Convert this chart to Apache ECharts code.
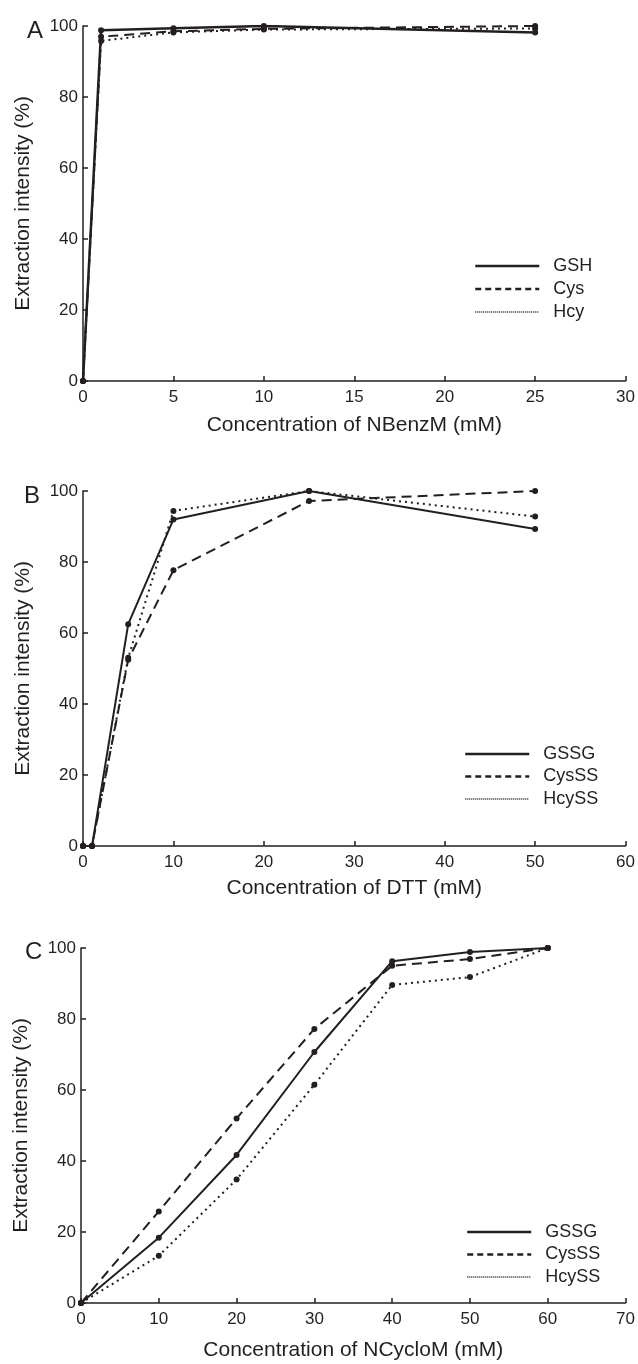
<!DOCTYPE html>
<html>
<head>
<meta charset="UTF-8">
<title>Extraction intensity</title>
<style>
    html, body { margin: 0; padding: 0; background: #fff; }
    #main { width: 638px; height: 1364px; }
</style>
</head>
<body>
<div id="main"></div>
<script src="https://cdn.jsdelivr.net/npm/echarts@6/dist/echarts.min.js"></script>
<script type="text/javascript">
// A: NBenzM (mM)
var xA = [0, 1, 5, 10, 25];
var gshA = [0, 98.8, 99.4, 100, 98.2];
var cysA = [0, 97, 98.5, 99.2, 100];
var hcyA = [0, 95.8, 98.2, 99, 99.3];

// B: DTT (mM)
var xB = [0, 1, 5, 10, 25, 50];
var gssgB = [0, 0, 62.5, 92, 100, 89.3];
var cysssB = [0, 0, 52.5, 77.7, 97.2, 100];
var hcyssB = [0, 0, 53, 94.4, 100, 92.8];

// C: NCycloM (mM)
var xC = [0, 10, 20, 30, 40, 50, 60];
var gssgC = [0, 18.4, 41.7, 70.7, 96.3, 98.9, 100];
var cysssC = [0, 25.8, 52, 77.2, 95, 96.9, 100];
var hcyssC = [0, 13.3, 34.8, 61.5, 89.6, 91.8, 100];

var yTicks = [0, 20, 40, 60, 80, 100];

var ink = '#231f20';
var font = "'Liberation Sans', Arial, Helvetica, sans-serif";

function pairs(xs, ys) {
    return xs.map(function (x, i) { return [x, ys[i]]; });
}

function xAxisOf(idx, max, step, name, gap) {
    return {
        gridIndex: idx, type: 'value', min: 0, max: max, interval: step,
        name: name, nameLocation: 'middle', nameGap: gap,
        nameTextStyle: { color: ink, fontSize: 21, fontFamily: font },
        axisLine: { lineStyle: { color: ink, width: 1.5 } },
        axisTick: { inside: true, length: 5, lineStyle: { color: ink, width: 1.5 } },
        axisLabel: { color: ink, fontSize: 17, fontFamily: font, margin: 8 },
        splitLine: { show: false }
    };
}

function yAxisOf(idx) {
    return {
        gridIndex: idx, type: 'value', min: yTicks[0], max: yTicks[yTicks.length - 1], interval: 20,
        name: 'Extraction intensity (%)', nameLocation: 'middle', nameGap: 49,
        nameTextStyle: { color: ink, fontSize: 21, fontFamily: font },
        axisLine: { show: true, lineStyle: { color: ink, width: 1.5 } },
        axisTick: { show: true, inside: true, length: 5, lineStyle: { color: ink, width: 1.5 } },
        axisLabel: { color: ink, fontSize: 17, fontFamily: font, margin: 5 },
        splitLine: { show: false }
    };
}

var dashed = [10, 6];
var dotted = [2, 4];

function line(name, idx, xs, ys, type, w) {
    return {
        name: name, type: 'line', xAxisIndex: idx, yAxisIndex: idx,
        data: pairs(xs, ys),
        symbol: 'circle', symbolSize: 6,
        itemStyle: { color: ink },
        lineStyle: { color: ink, width: w, type: type },
        emphasis: { disabled: true }
    };
}

function legendOf(names, left, top, gap) {
    return {
        orient: 'vertical', left: left, top: top, padding: 0,
        itemWidth: 64, itemHeight: 18, itemGap: gap,
        itemStyle: { opacity: 0 },
        textStyle: { color: ink, fontSize: 18, fontFamily: font, padding: [0, 0, 0, 9] },
        data: [
            { name: names[0], lineStyle: { type: 'solid', width: 2.5, color: ink } },
            { name: names[1], lineStyle: { type: [6, 4], width: 2.5, color: ink } },
            { name: names[2], lineStyle: { type: [1, 1], width: 1.5, color: ink } }
        ]
    };
}

var myChart = echarts.init(document.getElementById('main'));
var option = {
    animation: false,
    backgroundColor: '#fff',
    title: [
        { text: 'A', left: 22, top: 14, textStyle: { color: ink, fontSize: 24, fontWeight: 'normal', fontFamily: font } },
        { text: 'B', left: 19, top: 479, textStyle: { color: ink, fontSize: 24, fontWeight: 'normal', fontFamily: font } },
        { text: 'C', left: 20, top: 935, textStyle: { color: ink, fontSize: 24, fontWeight: 'normal', fontFamily: font } }
    ],
    grid: [
        { left: 83, top: 26, width: 545, height: 355 },
        { left: 83, top: 491, width: 545, height: 355 },
        { left: 81, top: 948, width: 549, height: 355 }
    ],
    xAxis: [
        xAxisOf(0, 30, 5, 'Concentration of NBenzM (mM)', 34),
        xAxisOf(1, 60, 10, 'Concentration of DTT (mM)', 32),
        xAxisOf(2, 70, 10, 'Concentration of NCycloM (mM)', 37)
    ],
    yAxis: [yAxisOf(0), yAxisOf(1), yAxisOf(2)],
    legend: [
        legendOf(['GSH', 'Cys', 'Hcy'], 474, 257, 5),
        legendOf(['GSSG', 'CysSS', 'HcySS'], 464, 745, 4.5),
        legendOf(['GSSG', 'CysSS', 'HcySS'], 466, 1223, 4.5)
    ],
    series: [
        line('Hcy', 0, xA, hcyA, dotted, 2),
        line('Cys', 0, xA, cysA, dashed, 2),
        line('GSH', 0, xA, gshA, 'solid', 2.5),
        line('HcySS', 1, xB, hcyssB, dotted, 2),
        line('CysSS', 1, xB, cysssB, dashed, 2),
        line('GSSG', 1, xB, gssgB, 'solid', 2),
        line('HcySS', 2, xC, hcyssC, dotted, 2),
        line('CysSS', 2, xC, cysssC, dashed, 2),
        line('GSSG', 2, xC, gssgC, 'solid', 2)
    ]
};
myChart.setOption(option);
</script>
</body>
</html>
